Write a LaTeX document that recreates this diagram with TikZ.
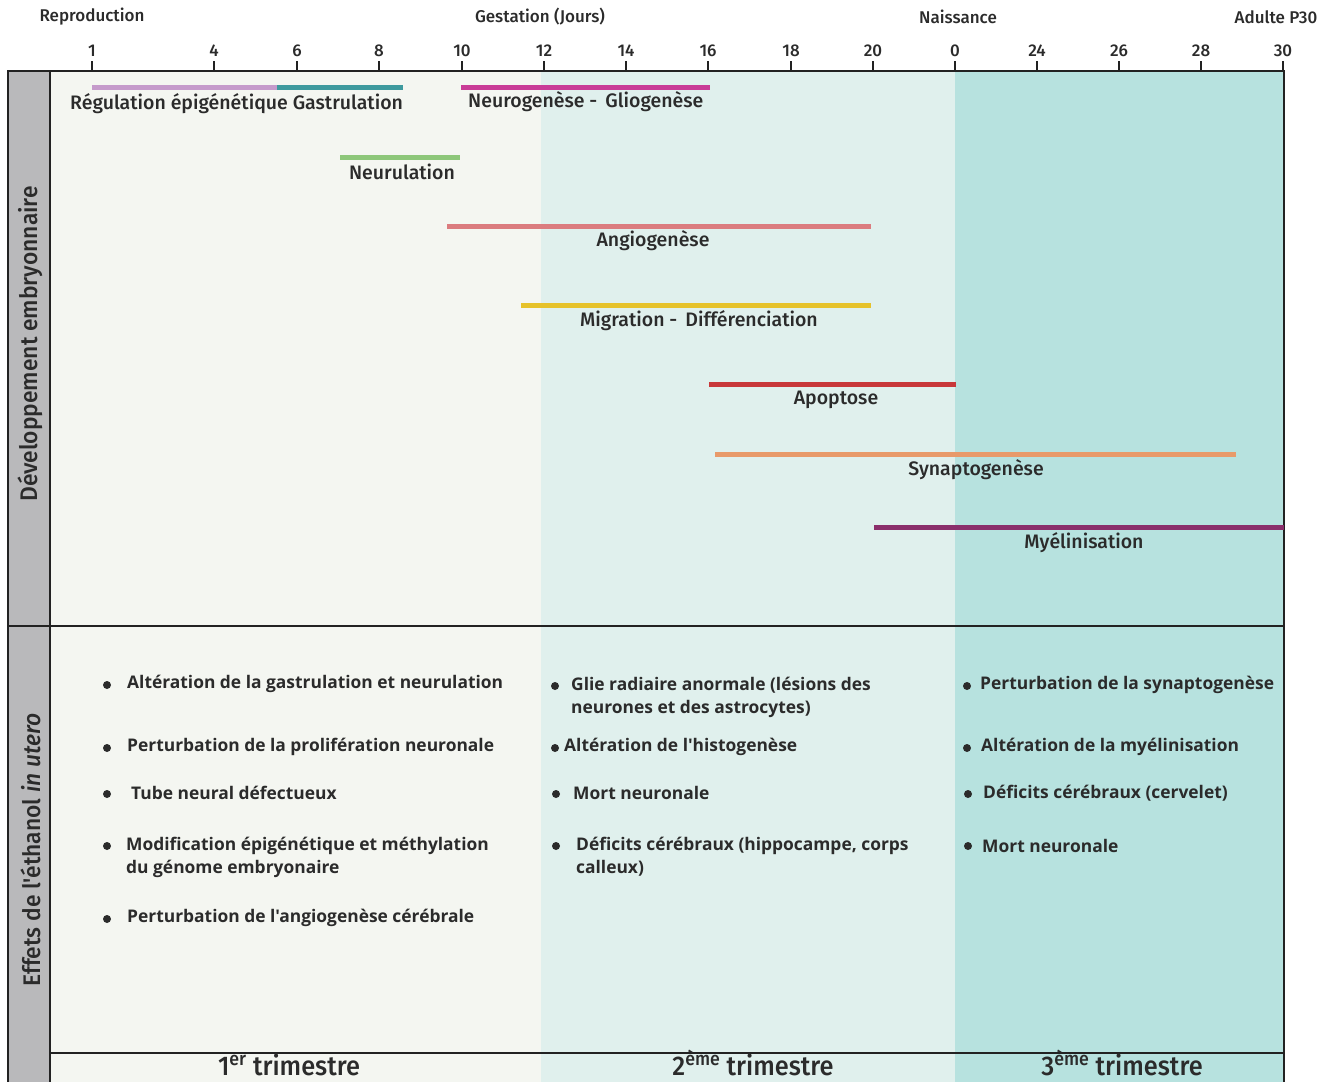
\documentclass[tikz,border=0pt]{standalone}
\usepackage{fontspec}
\setmainfont{Fira Sans}
\newfontfamily\medfont{Fira Sans Medium}
\newfontfamily\bulfont{Open Sans}
\usetikzlibrary{calc}
\definecolor{txt}{HTML}{2B2B2B}
\definecolor{frame}{HTML}{222222}
\definecolor{grayc}{HTML}{B9B9BB}
\definecolor{bgA}{HTML}{F4F6F1}
\definecolor{bgB}{HTML}{E0F0ED}
\definecolor{bgC}{HTML}{B7E2DF}
\definecolor{cReg}{HTML}{C59BCB}
\definecolor{cGas}{HTML}{3E9A9E}
\definecolor{cNeu}{HTML}{C93C97}
\definecolor{cNrl}{HTML}{8DC77A}
\definecolor{cAng}{HTML}{DB7C7F}
\definecolor{cMig}{HTML}{E6C22A}
\definecolor{cApo}{HTML}{C8383A}
\definecolor{cSyn}{HTML}{E89A6A}
\definecolor{cMye}{HTML}{8A2F6B}
\tikzset{
  hdr/.style={text=txt,font=\medfont\fontsize{17}{19}\selectfont,inner sep=0pt},
  ticknum/.style={text=txt,font=\medfont\fontsize{17}{19}\selectfont,inner sep=0pt},
  barlab/.style={text=txt,font=\medfont\fontsize{19.5}{22}\selectfont,inner sep=0pt},
  bul/.style={text=txt,font=\bulfont\bfseries\fontsize{17.4}{23}\selectfont,inner sep=0pt,anchor=west,align=left},
  dot/.style={circle,fill=txt,inner sep=0pt,minimum size=8pt},
  bar/.style={line width=5pt},
  side/.style={text=txt,font=\medfont\fontsize{24}{26}\selectfont,inner sep=0pt,rotate=90},
  trim/.style={text=txt,font=\medfont\fontsize{27}{29}\selectfont,inner sep=0pt,anchor=base},
}
\begin{document}
\begin{tikzpicture}[x=1pt,y=-1pt]
\useasboundingbox (0,0) rectangle (1335,1081);
% backgrounds
\fill[bgA] (50,71) rectangle (541,1090);
\fill[bgB] (541,71) rectangle (955,1090);
\fill[bgC] (955,71) rectangle (1284,1090);
\fill[grayc] (8,71) rectangle (50,1090);
% frame
\draw[frame,line width=2.5pt] (8,1090) -- (8,71) -- (1284,71) -- (1284,1090);
\draw[frame,line width=2.5pt] (50,71) -- (50,1090);
\draw[frame,line width=2pt] (8,626) -- (1284,626);
\draw[frame,line width=2.5pt] (50,1053) -- (1284,1053);
% header
\node[hdr] (hRep) at (92,17) {Reproduction};
\node[hdr] (hGes) at (540,17) {Gestation (Jours)};
\node[hdr] (hNai) at (958,17) {Naissance};
\node[hdr] (hAdu) at (1276,17) {Adulte P30};
% ticks
\foreach \x/\t [count=\i] in {92/1,214/4,297/6,379/8,462/10,544/12,626/14,708/16,791/18,873/20,955/0,1037/24,1119/26,1201/28,1283/30}{
  \coordinate (tk\i) at (\x,71);
  \draw[frame,line width=1.5pt] (tk\i) -- ++(0,-10);
  \node[ticknum] (tn\i) at (\x,51) {\t};
}
% bars
\coordinate (rA) at (92,87); \coordinate (rB) at (277,87); \coordinate (rC) at (403,87);
\draw[bar,cReg] (rA) -- (rB);
\draw[bar,cGas] (rB) -- (rC);
\coordinate (nA) at (461,87); \coordinate (nB) at (710,87);
\draw[bar,cNeu] (nA) -- (nB);
\coordinate (lA) at (340,157); \coordinate (lB) at (460,157);
\draw[bar,cNrl] (lA) -- (lB);
\coordinate (aA) at (447,226); \coordinate (aB) at (871,226);
\draw[bar,cAng] (aA) -- (aB);
\coordinate (mA) at (521,305); \coordinate (mB) at (871,305);
\draw[bar,cMig] (mA) -- (mB);
\coordinate (pA) at (709,384); \coordinate (pB) at (956,384);
\draw[bar,cApo] (pA) -- (pB);
\coordinate (sA) at (715,454); \coordinate (sB) at (1236,454);
\draw[bar,cSyn] (sA) -- (sB);
\coordinate (yA) at (874,527); \coordinate (yB) at (1284,527);
\draw[bar,cMye] (yA) -- (yB);
% bar labels
\node[barlab,anchor=west] (lReg) at (70,104) {Régulation épigénétique Gastrulation};
\node[barlab,anchor=west] (lNeu) at (468,102) {Neurogenèse -\, Gliogenèse};
\node[barlab] (lNrl) at (402,172) {Neurulation};
\node[barlab] (lAng) at (653,241) {Angiogenèse};
\node[barlab,anchor=west] (lMig) at (580,321) {Migration -\, Différenciation};
\node[barlab] (lApo) at (836,400) {Apoptose};
\node[barlab] (lSyn) at (976,470) {Synaptogenèse};
\node[barlab] (lMye) at (1084,543) {Myélinisation};
% side labels
\node[side] (sDev) at (30,344) {\scalebox{0.95}[1]{Développement embryonnaire}};
\node[side] (sEff) at (31,850) {\scalebox{0.95}[1]{Effets de l'éthanol \textit{in utero}}};
% bullets column 1
\node[dot] (d11) at (107,685) {}; \node[bul] (b11) at (127,684) {Altération de la gastrulation et neurulation};
\node[dot] (d12) at (107,748) {}; \node[bul] (b12) at (127,747) {Perturbation de la prolifération neuronale};
\node[dot] (d13) at (107,794) {}; \node[bul] (b13) at (131,793) {Tube neural défectueux};
\node[dot] (d14) at (107,846) {}; \node[bul] (b14) at (126,857) {Modification épigénétique et méthylation\\du génome embryonaire};
\node[dot] (d15) at (107,919) {}; \node[bul] (b15) at (127,918) {Perturbation de l'angiogenèse cérébrale};
% column 2
\node[dot] (d21) at (555,686) {}; \node[bul] (b21) at (571,697) {Glie radiaire anormale (lésions des\\neurones et des astrocytes)};
\node[dot] (d22) at (555,748) {}; \node[bul] (b22) at (564,747) {Altération de l'histogenèse};
\node[dot] (d23) at (556,794) {}; \node[bul] (b23) at (573,793) {Mort neuronale};
\node[dot] (d24) at (556,846) {}; \node[bul] (b24) at (576,857) {Déficits cérébraux (hippocampe, corps\\calleux)};
% column 3
\node[dot] (d31) at (967,686) {}; \node[bul] (b31) at (980,685) {Perturbation de la synaptogenèse};
\node[dot] (d32) at (967,748) {}; \node[bul] (b32) at (981,747) {Altération de la myélinisation};
\node[dot] (d33) at (968,794) {}; \node[bul] (b33) at (983,793) {Déficits cérébraux (cervelet)};
\node[dot] (d34) at (968,846) {}; \node[bul] (b34) at (982,846) {Mort neuronale};
% trimesters
\node[trim] (t1) at (289,1075) {\scalebox{0.94}[1]{1\textsuperscript{er} trimestre}};
\node[trim] (t2) at (753,1075) {\scalebox{0.94}[1]{2\textsuperscript{ème} trimestre}};
\node[trim] (t3) at (1122,1075) {\scalebox{0.94}[1]{3\textsuperscript{ème} trimestre}};
\end{tikzpicture}
\end{document}
